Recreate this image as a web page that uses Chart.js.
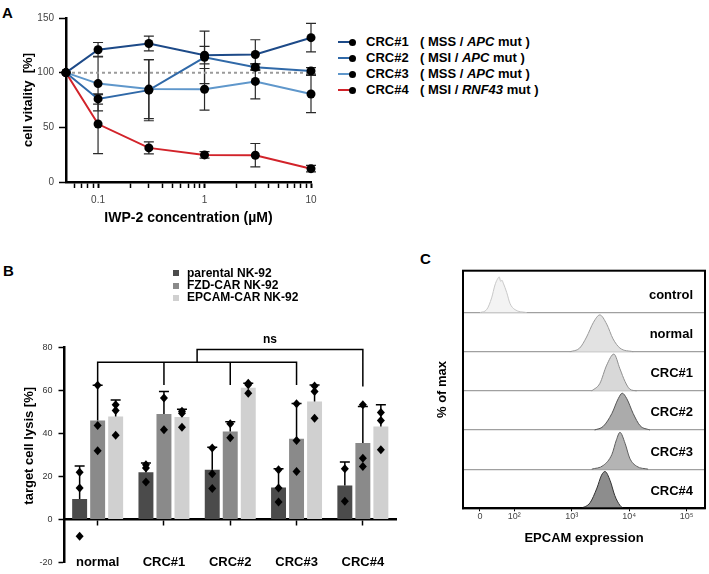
<!DOCTYPE html>
<html><head><meta charset="utf-8">
<script src="https://cdn.jsdelivr.net/npm/chart.js@4.4.1/dist/chart.umd.min.js"></script>
<style>
body{margin:0;width:709px;height:574px;position:relative;background:#fff;overflow:hidden;font-family:'Liberation Sans',Arial,Helvetica,sans-serif;}
canvas{position:absolute;}
.t{position:absolute;font-weight:bold;color:#000;white-space:nowrap;}
.plet{font-size:15px;line-height:15px;}
.lg{font-size:13px;line-height:16px;height:16px;}
.lgb{font-size:12px;line-height:13px;height:13px;}
</style></head>
<body>
<div class="t plet" style="left:2px;top:5px;">A</div>
<div class="t plet" style="left:3px;top:263px;">B</div>
<div class="t plet" style="left:420px;top:251px;">C</div>
<canvas id="cA" width="330" height="240" style="left:0;top:0;"></canvas>
<canvas id="cB" width="420" height="274" style="left:0;top:300px;"></canvas>
<canvas id="cC" width="279" height="319" style="left:430px;top:255px;"></canvas>
<div id="legA"></div>
<div id="legB"></div>
<script>
Chart.defaults.font.family = "'Liberation Sans', Arial, Helvetica, sans-serif";
Chart.defaults.color = '#333';
Chart.defaults.animation = false;

// ---------------- Panel A data ----------------
const concentrations = [0.05, 0.1, 0.3, 1, 3, 10];
const crc1Vitality = [100, 121, 126.7, 116, 116.6, 132];
const crc1SD       = [0, 6.6, 6.8, 8, 13.5, 13];
const crc2Vitality = [100, 76, 84, 114, 105, 101.6];
const crc2SD       = [0, 4.7, 28, 24, 3, 3];
const crc3Vitality = [100, 90, 85, 84.8, 92, 80.5];
const crc3SD       = [0, 25, 27, 19, 16, 17];
const crc4Vitality = [100, 53, 31.2, 24.8, 24.5, 12.2];
const crc4SD       = [0, 27, 5.5, 3, 10.7, 3];
const referenceVitality = [100, 100];
const referenceConc = [0.05, 10];
const seriesNamesA = ['CRC#1', 'CRC#2', 'CRC#3', 'CRC#4'];
const seriesStatusA = ['MSS', 'MSI', 'MSS', 'MSI'];
const seriesGeneA = ['APC', 'APC', 'APC', 'RNF43'];
const xTickValuesA = [0.06,0.07,0.08,0.09,0.1,0.2,0.3,0.4,0.5,0.6,0.7,0.8,0.9,1,2,3,4,5,6,7,8,9,10];
const xMajorValuesA = [0.1, 1, 10];
const xMajorLabelsA = ['0.1', '1', '10'];

// ---------------- Panel B data ----------------
const groupsB = ['normal', 'CRC#1', 'CRC#2', 'CRC#3', 'CRC#4'];
const effectorNamesB = ['parental NK-92', 'FZD-CAR NK-92', 'EPCAM-CAR NK-92'];
const parentalMean = [9.6, 22.1, 23.2, 15, 15.9];
const parentalSD   = [15.4, 4.2, 10.5, 8.7, 10.9];
const fzdMean      = [46.1, 49.2, 41, 37.6, 35.6];
const fzdSD        = [16.4, 10.4, 4.6, 16.4, 17];
const epcamMean    = [48, 47.7, 61.4, 55, 43.3];
const epcamSD      = [7.7, 3.7, 2, 7.7, 10.1];
const parentalPoints = [[22, 14.7, -7.7], [25.5, 24, 17.5], [33.3, 21.4, 14.5], [23.2, 14.7, 8.2], [23.7, 8.5]];
const fzdPoints      = [[62.5, 43.8, 32], [56.6, 41.8], [44.6, 38.1], [53.9, 36.8, 22.4], [53.4, 28.6, 24.7]];
const epcamPoints    = [[53.4, 50.8, 39.3], [50.4, 49.5, 43], [63.4, 62.8, 58.8], [62.2, 59.6, 47.2], [49.8, 46.1, 32.5]];

// ---------------- Panel C data ----------------
// x: EPCAM channel on the biexponential display (decades), y: % of max
const rowNamesC = ['control', 'normal', 'CRC#1', 'CRC#2', 'CRC#3', 'CRC#4'];
const controlX = [1.405, 1.521, 1.608, 1.666, 1.706, 1.741, 1.765, 1.788, 1.811, 1.870, 1.927, 2.014, 2.218];
const controlY = [0, 8, 40, 75, 90, 97, 85, 88, 80, 55, 25, 8, 0];
const normalX  = [2.97, 3.14, 3.26, 3.38, 3.49, 3.61, 3.72, 3.84, 4.07];
const normalY  = [0, 10, 40, 80, 100, 75, 35, 10, 0];
const crc1X    = [3.35, 3.49, 3.61, 3.735, 3.84, 3.93, 4.01, 4.13];
const crc1Y    = [0, 20, 70, 100, 60, 25, 5, 0];
const crc2X    = [3.40, 3.55, 3.70, 3.81, 3.88, 3.96, 4.07, 4.19, 4.36];
const crc2Y    = [0, 10, 45, 85, 100, 85, 45, 12, 0];
const crc3X    = [3.35, 3.55, 3.70, 3.78, 3.84, 3.93, 4.01, 4.13, 4.33];
const crc3Y    = [0, 10, 40, 80, 100, 70, 30, 8, 0];
const crc4X    = [3.17, 3.32, 3.44, 3.52, 3.58, 3.67, 3.75, 3.84, 3.90];
const crc4Y    = [0, 15, 55, 90, 100, 75, 35, 8, 0];
const xTickValuesC = [1.405, 2, 3, 4, 5];
const xTickLabelsC = ['0', '10²', '10³', '10⁴', '10⁵'];

// ================= Panel A =================
const seriesA = [
  {vals: crc1Vitality, sd: crc1SD, color: '#1d4a88'},
  {vals: crc2Vitality, sd: crc2SD, color: '#3069a8'},
  {vals: crc3Vitality, sd: crc3SD, color: '#5f97cb'},
  {vals: crc4Vitality, sd: crc4SD, color: '#d2232a'}
];
const errA = {
  id: 'errA',
  beforeDatasetsDraw(chart) {
    const {ctx, scales: {x, y}} = chart;
    ctx.save();
    ctx.strokeStyle = '#2a2a2a'; ctx.lineWidth = 1.2;
    seriesA.forEach(s => s.sd.forEach((sd, i) => {
      if (!sd) return;
      const px = x.getPixelForValue(concentrations[i]);
      const t = y.getPixelForValue(s.vals[i] + sd), b = y.getPixelForValue(s.vals[i] - sd);
      ctx.beginPath();
      ctx.moveTo(px, t); ctx.lineTo(px, b);
      ctx.moveTo(px - 5, t); ctx.lineTo(px + 5, t);
      ctx.moveTo(px - 5, b); ctx.lineTo(px + 5, b);
      ctx.stroke();
    }));
    ctx.restore();
  }
};
new Chart(document.getElementById('cA'), {
  type: 'scatter',
  data: {
    datasets: seriesA.map((s, k) => ({
      label: seriesNamesA[k],
      data: concentrations.map((c, i) => ({x: c, y: s.vals[i]})),
      showLine: true, borderColor: s.color, borderWidth: 2,
      pointRadius: 4.5, pointBackgroundColor: '#000', pointBorderColor: '#000', pointBorderWidth: 0,
      clip: false
    })).concat([{
      label: 'ref',
      data: referenceConc.map((c, i) => ({x: c, y: referenceVitality[i]})),
      showLine: true, borderColor: '#9a9a9a', borderDash: [3, 3], borderWidth: 2, pointRadius: 0, clip: false
    }])
  },
  options: {
    responsive: false, devicePixelRatio: 1,
    layout: {padding: {top: 18, right: 19, left: 0, bottom: 0}},
    plugins: {legend: {display: false}, tooltip: {enabled: false}},
    scales: {
      x: {
        type: 'logarithmic', min: 0.05, max: 10,
        afterFit(s) { s.height = 58; },
        afterBuildTicks(s) { s.ticks = xTickValuesA.map(v => ({value: v})); },
        ticks: {autoSkip: false, maxRotation: 0, padding: 6, font: {size: 10}, color: '#444',
          callback: v => { const k = xMajorValuesA.indexOf(v); return k >= 0 ? xMajorLabelsA[k] : ''; }},
        grid: {drawOnChartArea: false, tickLength: 6, tickColor: '#000',
          tickWidth: c => (c.tick && xMajorValuesA.indexOf(c.tick.value) >= 0) ? 2 : 1.5},
        border: {color: '#000', width: 2.5},
        title: {display: true, text: 'IWP-2 concentration (µM)', color: '#000', font: {size: 14, weight: 'bold'}, padding: {top: 0, bottom: 13.6}}
      },
      y: {
        min: 0, max: 150,
        afterFit(s) { s.width = 66; },
        ticks: {stepSize: 50, padding: 5, font: {size: 10}, color: '#444'},
        grid: {drawOnChartArea: false, tickLength: 7, tickColor: '#000', tickWidth: 1.5},
        border: {color: '#000', width: 2.5},
        title: {display: true, text: 'cell vitality  [%]', color: '#000', font: {size: 13, weight: 'bold'}, padding: {top: 21, bottom: 0}}
      }
    }
  },
  plugins: [errA]
});

// Legend A (HTML text)
(function () {
  const host = document.getElementById('legA');
  seriesNamesA.forEach((n, i) => {
    const cy = 42 + i * 16;
    host.insertAdjacentHTML('beforeend',
      `<div style="position:absolute;left:338px;top:${cy - 1}px;width:13px;height:2px;background:${seriesA[i].color}"></div>` +
      `<div style="position:absolute;left:348.5px;top:${cy - 3.5}px;width:7px;height:7px;border-radius:50%;background:#000"></div>` +
      `<div class="t lg" style="left:366px;top:${cy - 8}px;">${n}</div>` +
      `<div class="t lg" style="left:420px;top:${cy - 8}px;">( ${seriesStatusA[i]} / <i>${seriesGeneA[i]}</i> mut )</div>`);
  });
})();

// ================= Panel B =================
const colorsB = ['#4b4b4b', '#8a8a8a', '#d0d0d0'];
const meansB = [parentalMean, fzdMean, epcamMean];
const sdsB = [parentalSD, fzdSD, epcamSD];
const ptsB = [parentalPoints, fzdPoints, epcamPoints];
const decoB = {
  id: 'decoB',
  afterDatasetsDraw(chart) {
    const {ctx, scales: {x, y}} = chart;
    ctx.save();
    ctx.strokeStyle = '#000'; ctx.fillStyle = '#000'; ctx.lineWidth = 1.5;
    for (let d = 0; d < 3; d++) {
      const meta = chart.getDatasetMeta(d);
      meta.data.forEach((bar, i) => {
        const px = bar.x;
        const m = y.getPixelForValue(meansB[d][i]);
        const t = y.getPixelForValue(meansB[d][i] + sdsB[d][i]);
        ctx.beginPath();
        ctx.moveTo(px, m); ctx.lineTo(px, t);
        ctx.moveTo(px - 5, t); ctx.lineTo(px + 5, t);
        ctx.stroke();
        ptsB[d][i].forEach(v => {
          const py = y.getPixelForValue(v);
          ctx.beginPath();
          ctx.moveTo(px, py - 4.5); ctx.lineTo(px + 4, py); ctx.lineTo(px, py + 4.5); ctx.lineTo(px - 4, py);
          ctx.closePath(); ctx.fill();
        });
      });
    }
    // significance brackets
    const X = v => x.getPixelForValue(v), Y = v => y.getPixelForValue(v);
    ctx.beginPath();
    ctx.moveTo(X(0), Y(62.7)); ctx.lineTo(X(0), Y(73.2)); ctx.lineTo(X(3), Y(73.2)); ctx.lineTo(X(3), Y(62.7));
    ctx.moveTo(X(1), Y(73.2)); ctx.lineTo(X(1), Y(62.7));
    ctx.moveTo(X(2), Y(73.2)); ctx.lineTo(X(2), Y(62.7));
    ctx.moveTo(X(1.5), Y(73.2)); ctx.lineTo(X(1.5), Y(79.2)); ctx.lineTo(X(4), Y(79.2)); ctx.lineTo(X(4), Y(61.9));
    ctx.stroke();
    ctx.font = "bold 12px 'Liberation Sans', Arial, sans-serif";
    ctx.textAlign = 'center'; ctx.textBaseline = 'middle';
    ctx.fillText('ns', X(2.6), Y(83.6));
    // y title
    ctx.save();
    ctx.translate(29, 145.8);
    ctx.rotate(-Math.PI / 2);
    ctx.font = "bold 13px 'Liberation Sans', Arial, sans-serif";
    ctx.fillText('target cell lysis [%]', 0, 0);
    ctx.restore();
    ctx.restore();
  }
};
new Chart(document.getElementById('cB'), {
  type: 'bar',
  data: {
    labels: groupsB,
    datasets: effectorNamesB.map((n, d) => ({
      label: n, data: meansB[d], backgroundColor: colorsB[d],
      categoryPercentage: 0.815, barPercentage: 0.83
    }))
  },
  options: {
    responsive: false, devicePixelRatio: 1,
    layout: {padding: {top: 47.7, right: 24, left: 0, bottom: 11}},
    plugins: {legend: {display: false}, tooltip: {enabled: false}},
    scales: {
      x: {
        position: {y: 0}, offset: true,
        afterFit(s) { s.height = 0; },
        grid: {drawOnChartArea: false, offset: false, tickLength: 5, tickColor: '#000', tickWidth: 1.5},
        border: {color: '#000', width: 2.5},
        ticks: {padding: 30, font: {size: 13, weight: 'bold'}, color: '#000', maxRotation: 0}
      },
      y: {
        min: -20, max: 80,
        afterFit(s) { s.width = 64.5; },
        ticks: {stepSize: 20, padding: 6, font: {size: 9}, color: '#333'},
        grid: {drawOnChartArea: false, tickLength: 6, tickColor: '#000', tickWidth: 1.5},
        border: {color: '#000', width: 2.5}
      }
    }
  },
  plugins: [decoB]
});
(function () {
  const host = document.getElementById('legB');
  effectorNamesB.forEach((n, d) => {
    const cy = 273.3 + d * 12.3;
    host.insertAdjacentHTML('beforeend',
      `<div style="position:absolute;left:173px;top:${cy - 3}px;width:6px;height:6px;background:${colorsB[d]}"></div>` +
      `<div class="t lgb" style="left:187px;top:${cy - 6.5}px;">${n}</div>`);
  });
})();

// ================= Panel C =================
const histC = [
  {x: controlX, y: controlY, fill: '#f3f3f3', stroke: '#c8c8c8'},
  {x: normalX, y: normalY, fill: '#e2e2e2', stroke: '#9a9a9a'},
  {x: crc1X, y: crc1Y, fill: '#d8d8d8', stroke: '#8f8f8f'},
  {x: crc2X, y: crc2Y, fill: '#ababab', stroke: '#555'},
  {x: crc3X, y: crc3Y, fill: '#b4b4b4', stroke: '#5e5e5e'},
  {x: crc4X, y: crc4Y, fill: '#8d8d8d', stroke: '#333'}
];
const rowH = 0.94;
const decoC = {
  id: 'decoC',
  afterDraw(chart) {
    const {ctx, chartArea: a, scales: {y}} = chart;
    ctx.save();
    ctx.strokeStyle = '#000'; ctx.lineWidth = 2;
    ctx.strokeRect(a.left, a.top, a.right - a.left, a.bottom - a.top);
    ctx.fillStyle = '#000';
    ctx.font = "bold 13px 'Liberation Sans', Arial, sans-serif";
    ctx.textAlign = 'right'; ctx.textBaseline = 'middle';
    rowNamesC.forEach((n, r) => {
      const base = rowNamesC.length - 1 - r;
      ctx.fillText(n, a.right - 12, y.getPixelForValue(base + 0.44));
    });
    ctx.restore();
  }
};
new Chart(document.getElementById('cC'), {
  type: 'scatter',
  data: {
    datasets: histC.map((h, r) => {
      const base = histC.length - 1 - r;
      return {
        label: rowNamesC[r],
        data: h.x.map((v, i) => ({x: v, y: base + h.y[i] / 100 * rowH})),
        showLine: true, pointRadius: 0, borderColor: h.stroke, borderWidth: 1,
        backgroundColor: h.fill, fill: {value: base}, cubicInterpolationMode: 'monotone'
      };
    })
  },
  options: {
    responsive: false, devicePixelRatio: 1,
    layout: {padding: {top: 15.7, right: 4, left: 0, bottom: 0}},
    plugins: {legend: {display: false}, tooltip: {enabled: false}, filler: {propagate: false}},
    scales: {
      x: {
        type: 'linear', min: 1.11, max: 5.32,
        afterFit(s) { s.height = 65.7; },
        afterBuildTicks(s) { s.ticks = xTickValuesC.map(v => ({value: v})); },
        ticks: {autoSkip: false, maxRotation: 0, padding: 0, font: {size: 9}, color: '#444',
          callback: v => { const k = xTickValuesC.indexOf(v); return k >= 0 ? xTickLabelsC[k] : ''; }},
        grid: {drawOnChartArea: false, tickLength: 3, tickColor: '#000', tickWidth: 1},
        border: {color: '#000', width: 2},
        title: {display: true, text: 'EPCAM expression', color: '#000', font: {size: 13, weight: 'bold'}, padding: {top: 0, bottom: 28}}
      },
      y: {
        min: 0, max: 6.07,
        afterFit(s) { s.width = 33; },
        afterBuildTicks(s) { s.ticks = [0, 1, 2, 3, 4, 5].map(v => ({value: v})); },
        ticks: {display: false},
        grid: {drawTicks: false, color: '#a0a0a0', lineWidth: 1.2},
        border: {color: '#000', width: 2},
        title: {display: true, text: '% of max', color: '#000', font: {size: 13, weight: 'bold'}, padding: {top: 5, bottom: 0}}
      }
    }
  },
  plugins: [decoC]
});
</script>
</body></html>
